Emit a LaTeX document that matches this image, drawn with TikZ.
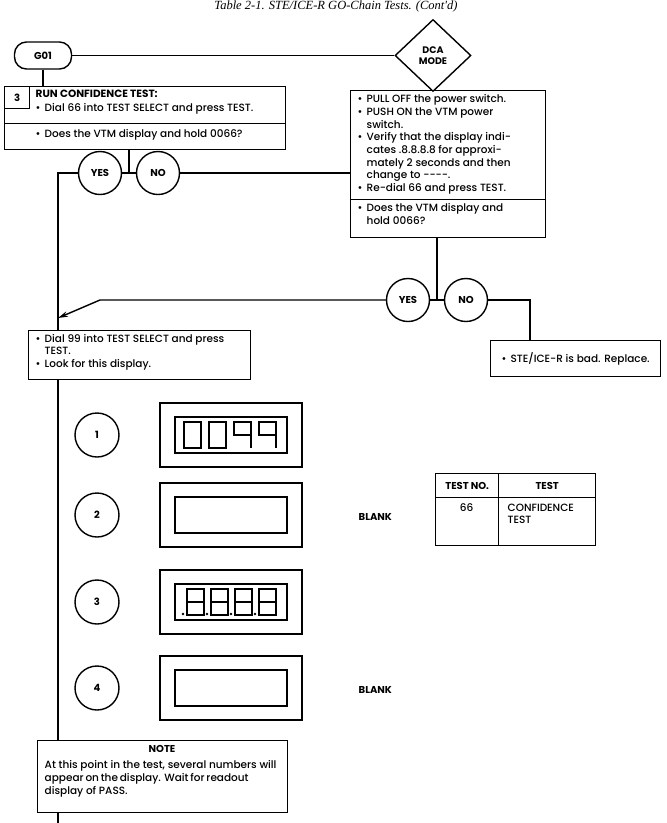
\documentclass[tikz,border=0pt]{standalone}
\usepackage{fontspec}
\IfFontExistsTF{Poppins Medium}{\setmainfont{Poppins Medium}[BoldFont={Poppins Bold}]}{\setmainfont{Poppins}}
\newfontfamily\serifit{Liberation Serif}
\usetikzlibrary{shapes.geometric,arrows.meta}
\newcommand\bl{\makebox[9pt][l]{\textbullet}}
\newcommand\ct{\hspace*{9pt}}
\newcommand\fs{\fontsize{10.5}{12.7}\selectfont}
\begin{document}
\begin{tikzpicture}[x=1pt,y=-1pt, line width=1.4pt,
  box/.style={draw, rectangle, anchor=north west, inner sep=0pt},
  txt/.style={anchor=north west, align=left, inner sep=0pt, font=\fs},
  yn/.style={draw, circle, minimum size=43pt, inner sep=0pt, fill=white, font=\fontsize{10}{11}\selectfont\bfseries},
  numc/.style={draw, circle, minimum size=44pt, inner sep=0pt, font=\fontsize{10}{11}\selectfont\bfseries},
  disp/.style={draw, rectangle, minimum width=142pt, minimum height=64pt, inner sep=0pt},
  scr/.style={draw, rectangle, minimum width=112pt, minimum height=36pt, inner sep=0pt, line width=1.2pt},
  seg/.style={line width=1.1pt},
  link/.style={line width=1.4pt},
  hd/.style={font=\bfseries\fontsize{10}{11.5}\selectfont},
  arr/.style={line width=1.4pt, -{Stealth[length=10pt,width=5.5pt]}},
]
\useasboundingbox (0,0) rectangle (667,823);

% title
\node[anchor=base, inner sep=0pt, font=\serifit\itshape\fontsize{12.5}{14}\selectfont] (title) at (336,9) {Table 2-1. STE/ICE-R GO-Chain Tests. (Cont'd)};

% G01 and DCA MODE
\node[draw, rounded corners=12pt, minimum width=57pt, minimum height=27pt, inner sep=0pt, hd] (g01) at (43,55.5) {G01};
\node[draw, diamond, minimum width=76pt, minimum height=72pt, inner sep=0pt, align=center, font=\bfseries\fontsize{9.5}{11}\selectfont] (dca) at (433,55.5) {DCA\\MODE};
\draw[link] (g01.east) -- (dca.west);

% box 3
\node[box, minimum width=281pt, minimum height=37pt] (b3a) at (4,86) {};
\node[box, minimum width=281pt, minimum height=26pt] (b3b) at (4,123) {};
\node[box, minimum width=25pt, minimum height=22pt] (n3) at (4,86) {};
\node[hd, inner sep=0pt] (n3t) at (n3.center) {3};
\draw[link] (g01.south) -- (g01.south |- b3a.north);
\node[txt, font=\bfseries\fs] (t3a) at (35,89.5) {RUN CONFIDENCE TEST:};
\node[txt] (t3b) at (35,103) {\bl Dial 66 into TEST SELECT and press TEST.};
\node[txt] (t3c) at (35,128.5) {\bl Does the VTM display and hold 0066?};

% first YES / NO
\coordinate (j1) at (129,173);
\node[yn] (yes1) at (100,173) {YES};
\node[yn] (no1) at (158,173) {NO};
\draw[link] (b3b.south -| j1) -- (j1);
\draw[link] (yes1.east) -- (no1.west);
\coordinate (lv) at (58,173);
\coordinate (lvend) at (58,823);

% right box
\node[box, minimum width=195pt, minimum height=109pt] (rb1) at (350,90) {};
\node[box, minimum width=195pt, minimum height=38pt] (rb2) at (350,199) {};
\draw[link] (no1.east) -- (no1.east -| rb1.west);
\node[txt] (tr1) at (357,94) {\bl PULL OFF the power switch.\\
\bl PUSH ON the VTM power\\
\ct switch.\\
\bl Verify that the display indi-\\
\ct cates .8.8.8.8 for approxi-\\
\ct mately 2 seconds and then\\
\ct change to -{}-{}-{}-.\\
\bl Re-dial 66 and press TEST.};
\node[txt] (tr2) at (357,203) {\bl Does the VTM display and\\
\ct hold 0066?};

% second YES / NO
\coordinate (j2) at (437,300);
\node[yn] (yes2) at (408,300) {YES};
\node[yn] (no2) at (466,300) {NO};
\draw[link] (rb2.south -| j2) -- (j2);
\draw[link] (yes2.east) -- (no2.west);
\coordinate (ak) at (100,300);
\coordinate (atip) at (58,318);
\draw[arr] (yes2.west) -- (ak) -- (atip);

% STE box
\node[box, minimum width=170pt, minimum height=36pt, font=\fs] (ste) at (490,340) {\bl STE/ICE-R is bad. Replace.};
\coordinate (c2) at (530,300);
\draw[link] (no2.east) -- (c2) -- (c2 |- ste.north);

% Dial 99 box
\node[box, minimum width=222pt, minimum height=49pt] (d99) at (28,330) {};
\node[txt] (td99) at (35,333.5) {\bl Dial 99 into TEST SELECT and press\\
\ct TEST.\\
\bl Look for this display.};

% left trunk
\draw[link] (yes1.west) -- (lv) -- (lv |- d99.north);

% displays
\node[numc] (c1) at (97,435) {1};
\node[disp] (dp1) at (231,435) {};
\node[scr] (s1) at (231,435) {};
\node[numc] (c2n) at (97,515) {2};
\node[disp] (dp2) at (231,515) {};
\node[scr] (s2) at (231,515) {};
\node[anchor=west, inner sep=0pt, hd] (blank1) at (358,517) {BLANK};
\node[numc] (c3) at (97,602) {3};
\node[disp] (dp3) at (231,602) {};
\node[scr] (s3) at (231,602) {};
\node[numc] (c4) at (97,688) {4};
\node[disp] (dp4) at (231,688) {};
\node[scr] (s4) at (231,688) {};
\node[anchor=west, inner sep=0pt, hd] (blank2) at (358,690) {BLANK};

% digits 0099
\foreach \x in {184,209} { \draw[seg] (\x,422) rectangle (\x+17,448); }
\foreach \x in {234,259} { \draw[seg] (\x+17,435) -- (\x,435) -- (\x,422) -- (\x+17,422) -- (\x+17,448); }
% digits .8.8.8.8
\foreach \x in {187,211,235,259} {
  \draw[seg] (\x,589) rectangle (\x+17,615);
  \draw[seg] (\x,602) -- (\x+17,602);
  \fill (\x-4,614) circle (1.4pt);
}

% table
\node[box, minimum width=63pt, minimum height=24pt, hd] (th1) at (435,473) {TEST NO.};
\node[box, minimum width=97pt, minimum height=24pt, hd] (th2) at (498,473) {TEST};
\node[box, minimum width=63pt, minimum height=48pt] (tc1) at (435,497) {};
\node[box, minimum width=97pt, minimum height=48pt] (tc2) at (498,497) {};
\node[anchor=north, inner sep=0pt, font=\fs] (t66) at (466.5,503) {66};
\node[txt] (tconf) at (507,503) {CONFIDENCE\\TEST};

% note box
\node[box, minimum width=250pt, minimum height=72pt] (note) at (37,740) {};
\node[anchor=north, inner sep=0pt, font=\bfseries\fontsize{10}{11}\selectfont] (notet) at (162,745) {NOTE};
\node[txt] (notebody) at (44,760) {\setbox0\hbox{At this point in the test, several numbers will}\copy0\\
\hbox to \wd0{appear on the display. Wait for readout}\\
display of PASS.};

\draw[link] (d99.south -| lv) -- (note.north -| lv);
\draw[link] (note.south -| lv) -- (lvend);
\end{tikzpicture}
\end{document}
